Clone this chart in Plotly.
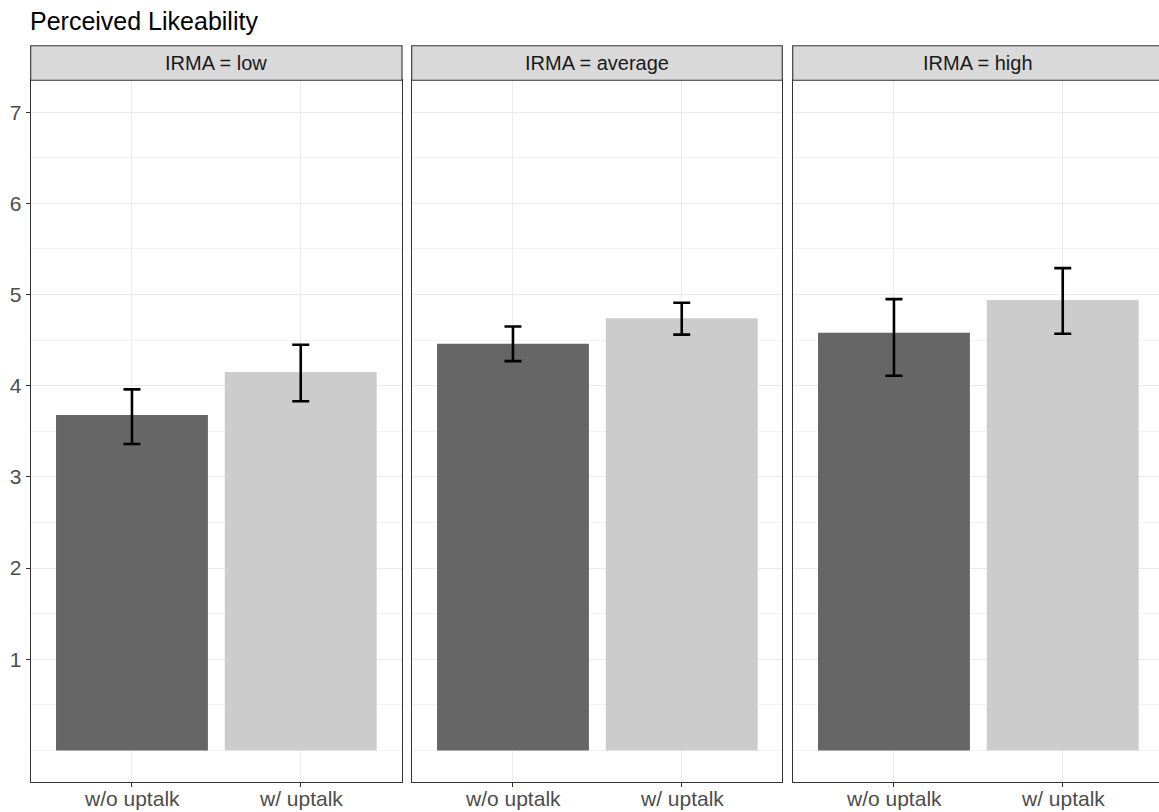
import plotly.graph_objects as go

# ---- data ----
facets = ["IRMA = low", "IRMA = average", "IRMA = high"]
categories = ["w/o uptalk", "w/ uptalk"]
means = [[3.68, 4.15], [4.46, 4.74], [4.58, 4.94]]
upper = [[3.96, 4.45], [4.65, 4.91], [4.95, 5.29]]
lower = [[3.36, 3.83], [4.27, 4.56], [4.11, 4.57]]
bar_colors = ["#666666", "#CCCCCC"]
y_ticks = [1, 2, 3, 4, 5, 6, 7]
y_minor = [0, 0.5, 1.5, 2.5, 3.5, 4.5, 5.5, 6.5]
title_text = "Perceived Likeability"

W, H = 1159, 812
FONT = "Liberation Sans, Arial, sans-serif"

# panel pixel geometry
panel_x = [(30.7, 402.0), (411.7, 782.3), (792.7, 1163.6)]
panel_top, panel_bot = 80.3, 782.3
strip_top = 45.7
px_per_unit = (402.0 - 30.7) / 2.2

def px(x):
    return x / W

def py(y):
    return 1 - y / H

fig = go.Figure()
shapes = []
annotations = []

for i, fname in enumerate(facets):
    ax = "" if i == 0 else str(i + 1)
    x0, x1 = panel_x[i]
    x1c = min(x1, W)
    fig.add_trace(go.Bar(
        x=categories, y=means[i],
        marker=dict(color=bar_colors, line=dict(width=0)),
        width=0.9,
        error_y=dict(type="data", symmetric=False,
                     array=[u - m for u, m in zip(upper[i], means[i])],
                     arrayminus=[m - l for m, l in zip(means[i], lower[i])],
                     color="black", thickness=2.6, width=8.5),
        xaxis="x" + ax, yaxis="y" + ax, showlegend=False,
        hoverinfo="skip",
    ))
    fig.update_layout(**{
        "xaxis" + ax: dict(
            domain=[px(x0), px(x1c)], anchor="y" + ax, automargin=False,
            range=[-0.6, -0.6 + (x1c - x0) / px_per_unit],
            showticklabels=False,
            showgrid=True, gridcolor="#EBEBEB", gridwidth=1.1,
            showline=True, linecolor="#333333", linewidth=1.1, mirror=True,
            ticks="outside", ticklen=4, tickcolor="#333333", tickwidth=1.1,
            zeroline=False, fixedrange=True,
        ),
        "yaxis" + ax: dict(
            domain=[py(panel_bot), py(panel_top)], anchor="x" + ax, automargin=False,
            range=[-0.35, 7.35],
            tickmode="array", tickvals=y_ticks,
            showticklabels=(i == 0),
            ticks="outside" if i == 0 else "", ticklen=4, tickcolor="#333333", tickwidth=1.1,
            tickfont=dict(family=FONT, size=21, color="#4D4D4D"),
            showgrid=True, gridcolor="#EBEBEB", gridwidth=1.1,
            minor=dict(tickmode="array", tickvals=y_minor, showgrid=True,
                       gridcolor="#F2F2F2", gridwidth=0.6, ticks=""),
            showline=True, linecolor="#333333", linewidth=1.1, mirror=True,
            zeroline=False, fixedrange=True,
        ),
    })
    # x category labels placed through the category axis
    for c in categories:
        annotations.append(dict(text=c, xref="x" + ax, yref="paper",
                                x=c, y=0, xanchor="center", yanchor="bottom",
                                showarrow=False,
                                font=dict(family=FONT, size=21, color="#4D4D4D")))
    # strip
    shapes.append(dict(type="rect", xref="paper", yref="paper",
                       x0=px(x0), x1=px(x1), y0=py(panel_top), y1=py(strip_top),
                       fillcolor="#D9D9D9", line=dict(color="#333333", width=1.1),
                       layer="above"))
    annotations.append(dict(text=fname, xref="paper", yref="paper",
                            x=px((x0 + x1) / 2), y=py((strip_top + panel_top) / 2),
                            xanchor="center", yanchor="middle", showarrow=False,
                            font=dict(family=FONT, size=20, color="#1A1A1A")))

annotations.append(dict(text=title_text, xref="paper", yref="paper",
                        x=px(28), y=py(21), xanchor="left", yanchor="middle",
                        showarrow=False,
                        font=dict(family=FONT, size=25, color="#000000")))

fig.update_layout(
    width=W, height=H,
    margin=dict(l=0, r=0, t=0, b=0, autoexpand=False),
    paper_bgcolor="white", plot_bgcolor="white",
    shapes=shapes, annotations=annotations,
    bargap=0.1,
)

fig.write_html("out.html", config={"displayModeBar": False},
               post_script="document.body.style.margin='0px';document.body.style.overflow='hidden';")
